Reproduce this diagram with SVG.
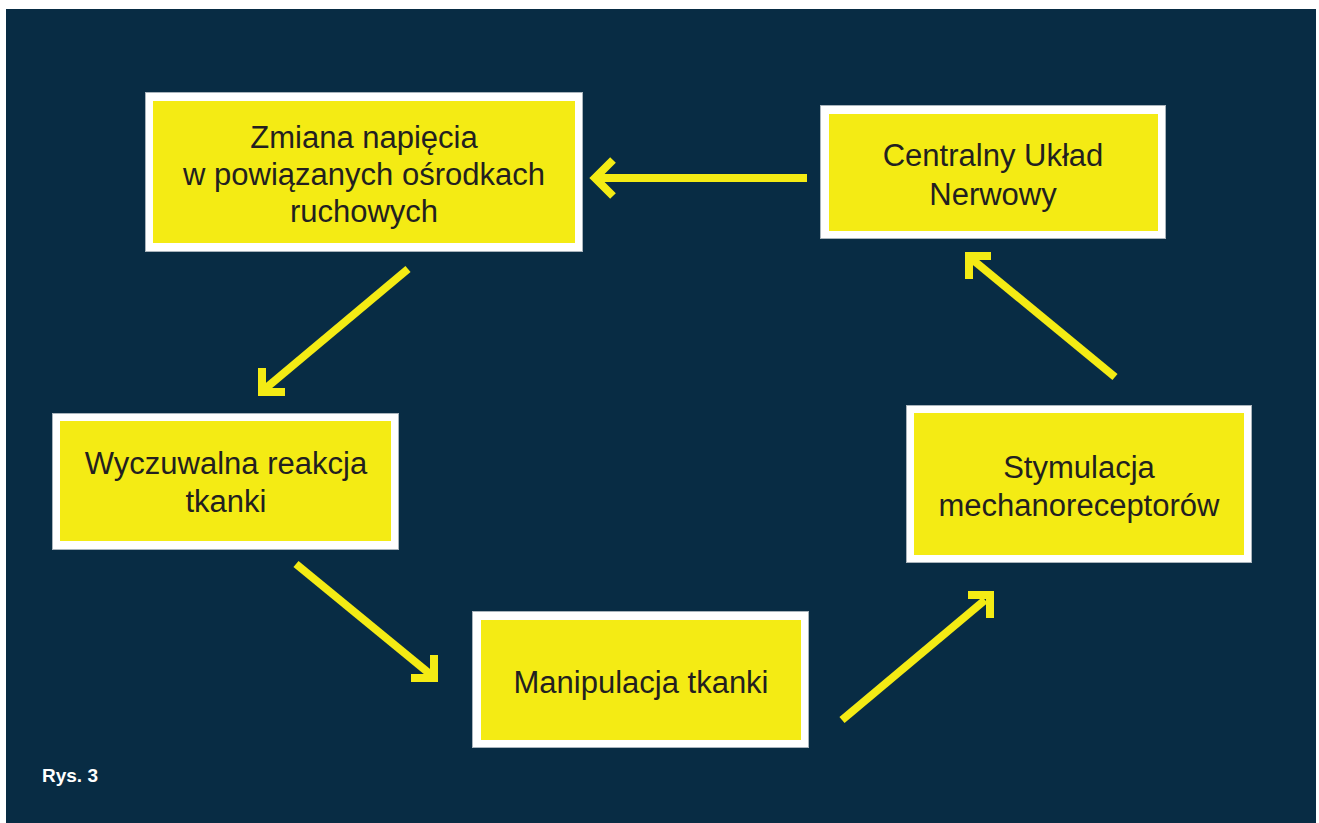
<svg xmlns="http://www.w3.org/2000/svg" width="1319" height="823" viewBox="0 0 1319 823">
<defs>
<style>
.frame{fill:#ffffff;stroke:#a9b4bc;stroke-width:1}
.box{fill:#f4eb14}
.lbl{font-family:"Liberation Sans",Arial,sans-serif;font-size:31px;fill:#231f20;text-anchor:middle}
.ln{fill:none;stroke:#f4eb14;stroke-width:8;stroke-linecap:butt}
.hd{fill:none;stroke:#f4eb14;stroke-width:8;stroke-linejoin:miter;stroke-miterlimit:10;stroke-linecap:butt}
.cap{font-family:"Liberation Sans",Arial,sans-serif;font-size:19px;font-weight:bold;fill:#ffffff}
</style>
</defs>
<rect x="0" y="0" width="1319" height="823" fill="#ffffff"/>
<rect x="6" y="9" width="1310" height="814" fill="#082c44"/>

<g id="node-zmiana">
<rect class="frame" x="145.5" y="92.5" width="437" height="159"/>
<rect class="box" x="153" y="101" width="422" height="142"/>
<text class="lbl" x="364" y="148">Zmiana napięcia</text>
<text class="lbl" x="364" y="185">w powiązanych ośrodkach</text>
<text class="lbl" x="364" y="222">ruchowych</text>
</g>

<g id="node-cun">
<rect class="frame" x="820.5" y="105.5" width="345" height="133"/>
<rect class="box" x="829" y="114" width="329" height="117"/>
<text class="lbl" x="993" y="166">Centralny Układ</text>
<text class="lbl" x="993" y="205">Nerwowy</text>
</g>

<g id="node-wyczuwalna">
<rect class="frame" x="52.5" y="413.5" width="346" height="136"/>
<rect class="box" x="60" y="421" width="331" height="120"/>
<text class="lbl" x="226" y="474">Wyczuwalna reakcja</text>
<text class="lbl" x="226" y="512">tkanki</text>
</g>

<g id="node-manipulacja">
<rect class="frame" x="472.5" y="611.5" width="336" height="136"/>
<rect class="box" x="481" y="620" width="320" height="120"/>
<text class="lbl" x="641" y="693">Manipulacja tkanki</text>
</g>

<g id="node-stymulacja">
<rect class="frame" x="906.5" y="405.5" width="345" height="157"/>
<rect class="box" x="914" y="413" width="330" height="142"/>
<text class="lbl" x="1079" y="478">Stymulacja</text>
<text class="lbl" x="1079" y="516">mechanoreceptorów</text>
</g>

<g id="connectors">
<line class="ln" x1="807" y1="178" x2="597" y2="178"/>
<path class="hd" d="M613 160 L595 178 L613 196"/>

<line class="ln" x1="408" y1="269" x2="266" y2="388"/>
<path class="hd" d="M262 368 L262 392 L285 392"/>

<line class="ln" x1="296" y1="564" x2="430" y2="674"/>
<path class="hd" d="M434 655 L434 678 L411 678"/>

<line class="ln" x1="842" y1="720" x2="985" y2="600"/>
<path class="hd" d="M968 595 L990 595 L990 618"/>

<line class="ln" x1="1115" y1="377" x2="973" y2="260"/>
<path class="hd" d="M991 256 L969 256 L969 279"/>
</g>

<text class="cap" x="42" y="782">Rys. 3</text>
</svg>
